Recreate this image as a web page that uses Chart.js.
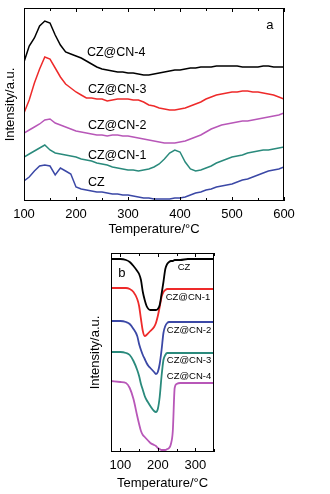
<!DOCTYPE html>
<html>
<head>
<meta charset="utf-8">
<script src="https://cdn.jsdelivr.net/npm/chart.js@4.4.1/dist/chart.umd.min.js"></script>
<style>
  body { margin: 0; background: #fff; }
  .box { position: absolute; left: 0; }
</style>
</head>
<body>
<div class="box" style="top:0"><canvas id="chartA" width="330" height="240"></canvas></div>
<div class="box" style="top:245px"><canvas id="chartB" width="330" height="249"></canvas></div>
<script>
// panel a: TPR-like curves, temperature every 10 C
var tempA = [100,110,120,130,140,150,160,170,180,190,200,210,220,230,240,250,260,270,280,290,300,
  310,320,330,340,350,360,370,380,390,400,410,420,430,440,450,460,470,480,490,500,
  510,520,530,540,550,560,570,580,590,600];
var czA = [20,24,30,35,36,35,26,33,30,27,14,12,11,10,9,9,8,7,7,6,6,
  5,4,3,3,2,2,2,2,3,3,4,6,8,9,11,12,14,15,16,17,
  19,21,22,24,26,28,30,31,32,34];
var cn1A = [44,47,50,53,56,51,48,47,46,45,44,42,41,40,38,37,36,34,33,32,31,
  31,30,31,32,34,37,42,48,51,49,39,32,30,31,33,35,38,40,42,44,
  45,46,48,49,50,51,51,52,53,54];
var cn2A = [68,71,74,77,81,82,78,76,74,72,70,69,68,67,66,66,65,66,66,65,65,
  64,63,62,61,60,59,58,58,58,59,60,62,64,66,69,72,74,76,77,78,
  79,80,80,81,82,83,84,85,86,88];
var cn3A = [88,101,118,132,144,142,133,124,117,113,109,106,103,103,102,102,100,101,102,102,102,
  101,101,99,96,95,93,92,91,91,92,93,95,97,99,102,104,106,107,108,109,
  109,110,110,109,109,108,107,106,104,102];
var cn4A = [139,155,163,175,180,178,166,156,149,147,145,143,140,137,134,132,131,130,129,129,128,
  128,127,126,126,127,128,129,130,131,131,132,133,133,134,134,134,135,135,135,135,
  135,134,134,134,134,135,135,134,134,134];
var ticksA = [100, 200, 300, 400, 500, 600];

// panel b
var tempB = [75,100,115,125,135,145,150,155,160,165,170,175,180,190,195,200,205,210,215,220,
  225,230,235,240,245,250,260,280,300,350];
var czB = [193,193,192,190,186,181,178,172,160,152,146,143,142,142,142,143,147,158,170,183,
  188,190,191,191,192,192,192,193,193,193];
var cn1B = [164,164,164,163,160,153,146,133,121,116,117,119,121,125,129,136,145,155,160,162,
  163,163,163,163,163,163,163,163,163,163];
var cn2B = [131,131,130,128,123,116,108,102,97,93,89,86,84,80,78,80,88,102,119,126,
  129,130,130,130,130,130,130,130,130,130];
var cn3B = [100,100,99,97,91,82,76,68,62,56,52,49,46,41,40,43,55,76,92,97,
  99,99,99,99,99,99,99,99,99,99];
var cn4B = [71,70,69,64,53,36,28,21,17,15,13,11,9,7,6,4,3,2,2,2,
  3,4,8,21,64,68,69,69,69,69];
var ticksB = [100, 200, 300];

var names = ['CZ', 'CZ@CN-1', 'CZ@CN-2', 'CZ@CN-3', 'CZ@CN-4'];
var colorsA = ['#3b48a6', '#2a8a7c', '#b857b8', '#ee2a2a', '#000000'];
var colorsB = ['#000000', '#ee2a2a', '#3b48a6', '#2a8a7c', '#b857b8'];

var FONT = 'Arial, "Liberation Sans", sans-serif';

function toPts(xs, ys) {
  return xs.map(function(x, i) { return {x: x, y: ys[i]}; });
}

// frame, inward ticks and curve labels
var framePlugin = {
  id: 'frame',
  afterDatasetsDraw: function(chart, args, opts) {
    var ctx = chart.ctx, a = chart.chartArea, sx = chart.scales.x, sy = chart.scales.y;
    ctx.save();
    ctx.strokeStyle = '#000';
    ctx.lineWidth = 1;
    ctx.strokeRect(a.left + 0.5, a.top + 0.5, a.right - a.left - 1, a.bottom - a.top - 1);
    for (var t = 50; t <= sx.max; t += 50) {
      if (t < sx.min) continue;
      var px = Math.round(sx.getPixelForValue(t)) + 0.5;
      var len = (t % 100 === 0) ? 4 : 3;
      ctx.beginPath();
      ctx.moveTo(px, a.bottom); ctx.lineTo(px, a.bottom - len);
      ctx.moveTo(px, a.top); ctx.lineTo(px, a.top + len);
      ctx.stroke();
    }
    ctx.fillStyle = '#000';
    ctx.textBaseline = 'middle';
    opts.labels.forEach(function(l) {
      ctx.font = l.size + 'px ' + FONT;
      ctx.textAlign = l.align || 'left';
      ctx.fillText(l.text, sx.getPixelForValue(l.x), sy.getPixelForValue(l.y));
    });
    ctx.restore();
  }
};

function makeChart(id, xs, series, colors, xmin, xmax, ymax, tickVals, pad, yw, xh, labels, smooth, lw) {
  var datasets = series.map(function(s, i) {
    return {
      label: names[i],
      data: toPts(xs, s),
      borderColor: colors[i],
      borderWidth: lw,
      pointRadius: 0,
      fill: false,
      tension: smooth ? 0.4 : 0,
      cubicInterpolationMode: smooth ? 'monotone' : 'default'
    };
  });
  return new Chart(document.getElementById(id), {
    type: 'line',
    data: { datasets: datasets },
    options: {
      responsive: false,
      animation: false,
      devicePixelRatio: 1,
      layout: { padding: pad },
      plugins: {
        legend: { display: false },
        tooltip: { enabled: false },
        frame: { labels: labels }
      },
      scales: {
        x: {
          type: 'linear', min: xmin, max: xmax,
          grid: { display: false, drawTicks: false },
          border: { display: false },
          ticks: { color: '#000', padding: 6, font: { family: FONT, size: 13 }, maxRotation: 0 },
          afterBuildTicks: function(s) { s.ticks = tickVals.map(function(v) { return {value: v}; }); },
          title: { display: true, text: 'Temperature/°C', color: '#000', padding: 3,
            font: { family: FONT, size: 13 } },
          afterFit: function(s) { s.height = xh; }
        },
        y: {
          min: 0, max: ymax,
          grid: { display: false, drawTicks: false },
          border: { display: false },
          ticks: { display: false },
          title: { display: true, text: 'Intensity/a.u.', color: '#000', padding: 3,
            font: { family: FONT, size: 13 } },
          afterFit: function(s) { s.width = yw; }
        }
      }
    },
    plugins: [framePlugin]
  });
}

var labelsA = [
  { text: 'CZ@CN-4', x: 221, y: 148, size: 12.5 },
  { text: 'CZ@CN-3', x: 223, y: 111, size: 12.5 },
  { text: 'CZ@CN-2', x: 223, y: 75, size: 12.5 },
  { text: 'CZ@CN-1', x: 223, y: 45, size: 12.5 },
  { text: 'CZ', x: 223, y: 18, size: 12.5 },
  { text: 'a', x: 573, y: 176, size: 13, align: 'center' }
];
var labelsB = [
  { text: 'CZ', x: 253, y: 185, size: 9.5 },
  { text: 'CZ@CN-1', x: 221, y: 155, size: 9.5 },
  { text: 'CZ@CN-2', x: 224, y: 122, size: 9.5 },
  { text: 'CZ@CN-3', x: 224, y: 92, size: 9.5 },
  { text: 'CZ@CN-4', x: 224, y: 76, size: 9.5 },
  { text: 'b', x: 104, y: 179, size: 13, align: 'center' }
];

makeChart('chartA', tempA, [czA, cn1A, cn2A, cn3A, cn4A], colorsA, 100, 600, 193, ticksA,
  { left: 0, top: 8, right: 46, bottom: 0 }, 24, 39, labelsA, false, 1.5);
makeChart('chartB', tempB, [czB, cn1B, cn2B, cn3B, cn4B], colorsB, 75, 350, 199, ticksB,
  { left: 85, top: 8, right: 116, bottom: 0 }, 26, 42, labelsB, true, 1.8);
</script>
</body>
</html>
